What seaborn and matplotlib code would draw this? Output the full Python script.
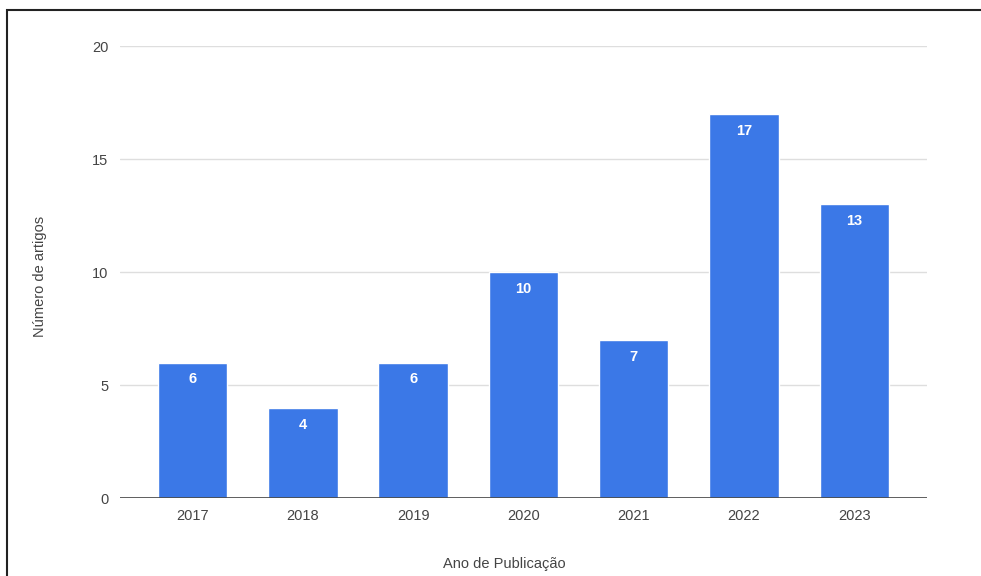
import matplotlib
matplotlib.use("Agg")
import matplotlib.pyplot as plt
import seaborn as sns
import pandas as pd
from matplotlib.patches import Rectangle

# data
anos = ["2017", "2018", "2019", "2020", "2021", "2022", "2023"]
artigos = [6, 4, 6, 10, 7, 17, 13]
y_ticks = [0, 5, 10, 15, 20]

df = pd.DataFrame({"Ano": anos, "Artigos": artigos})

sns.set_theme(style="white")
plt.rcParams["font.family"] = ["Liberation Sans", "DejaVu Sans"]

fig = plt.figure(figsize=(9.81, 5.76), dpi=100)
ax = fig.add_axes([0.122, 0.135, 0.823, 0.785])

sns.barplot(data=df, x="Ano", y="Artigos", color="#3b78e7", saturation=1,
            width=0.63, ax=ax, zorder=3)

# white value labels inside the top of each bar
for bar, v in zip(ax.patches, artigos):
    ax.annotate(str(v), (bar.get_x() + bar.get_width() / 2, bar.get_height()),
                xytext=(0, -7), textcoords="offset points",
                ha="center", va="top", color="white", fontsize=10.5,
                fontweight="semibold")

ax.set_ylim(0, 20)
ax.set_xlim(-0.66, 6.66)
ax.set_yticks(y_ticks)
ax.yaxis.grid(True, color="#dedede", linewidth=1, zorder=0)
ax.axhline(0, color="#444444", linewidth=1.2, zorder=4)
for s in ax.spines.values():
    s.set_visible(False)
ax.tick_params(axis="both", length=0, labelsize=10.5, colors="#444444")
ax.tick_params(axis="y", pad=8)
ax.tick_params(axis="x", pad=8)

ax.set_xlabel("Ano de Publicação", fontsize=10.5, color="#444444")
ax.set_ylabel("Número de artigos", fontsize=10.5, color="#444444")
ax.xaxis.set_label_coords(0.477, -0.13)
ax.yaxis.set_label_coords(-0.09, 0.49)

# black frame around the chart (cropped at right and bottom)
fig.patches.append(Rectangle((7 / 981, -0.05), 1.05, 1 - 10 / 576 + 0.05,
                             transform=fig.transFigure, fill=False,
                             edgecolor="#222222", linewidth=1.5))

plt.savefig("out.png", dpi=100)
